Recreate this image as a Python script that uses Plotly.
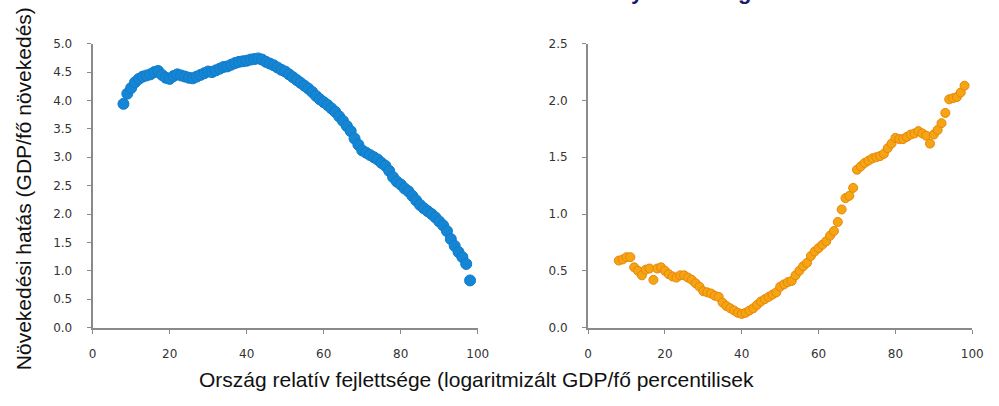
import plotly.graph_objects as go

# Data
x_left = list(range(8, 99))
y_left = [3.94, 4.12, 4.22, 4.32, 4.38, 4.42, 4.44, 4.46, 4.50, 4.52,
          4.45, 4.40, 4.38, 4.43, 4.46, 4.44, 4.42, 4.40, 4.39, 4.42,
          4.45, 4.48, 4.51, 4.50, 4.53, 4.56, 4.59, 4.60, 4.63, 4.66,
          4.68, 4.69, 4.70, 4.72, 4.73, 4.74, 4.72, 4.68, 4.65, 4.62,
          4.58, 4.54, 4.51, 4.46, 4.41, 4.36, 4.31, 4.26, 4.21, 4.15,
          4.08, 4.02, 3.97, 3.92, 3.86, 3.80, 3.72, 3.64, 3.55, 3.46,
          3.33, 3.22, 3.12, 3.08, 3.04, 3.00, 2.96, 2.90, 2.85, 2.76,
          2.65, 2.57, 2.52, 2.45, 2.40, 2.32, 2.24, 2.16, 2.10, 2.05,
          2.00, 1.94, 1.87, 1.80, 1.70, 1.56, 1.44, 1.33, 1.24, 1.12, 0.83]

x_right = list(range(8, 99))
y_right = [0.59, 0.60, 0.62, 0.62, 0.53, 0.50, 0.46, 0.51, 0.52, 0.42,
           0.52, 0.53, 0.50, 0.47, 0.45, 0.44, 0.46, 0.46, 0.44, 0.42,
           0.39, 0.36, 0.32, 0.31, 0.30, 0.28, 0.27, 0.22, 0.19, 0.17,
           0.15, 0.13, 0.12, 0.13, 0.15, 0.17, 0.20, 0.23, 0.25, 0.27,
           0.29, 0.31, 0.36, 0.38, 0.40, 0.41, 0.46, 0.50, 0.54, 0.57,
           0.63, 0.67, 0.70, 0.73, 0.76, 0.81, 0.85, 0.93, 1.04, 1.14,
           1.16, 1.23, 1.39, 1.42, 1.45, 1.47, 1.49, 1.50, 1.51, 1.53,
           1.58, 1.62, 1.67, 1.66, 1.66, 1.68, 1.70, 1.71, 1.73, 1.71,
           1.69, 1.62, 1.70, 1.74, 1.80, 1.89, 2.01, 2.02, 2.03, 2.07, 2.13]

y_title = "Növekedési hatás (GDP/fő növekedés)"
x_title = "Ország relatív fejlettsége (logaritmizált GDP/fő percentilisek"

W, H = 999, 406

fig = go.Figure()
fig.add_trace(go.Scatter(
    x=x_left, y=y_left, mode="markers", xaxis="x", yaxis="y",
    marker=dict(size=11, color="#1586d4", line=dict(color="#0f7ccb", width=1)),
    showlegend=False, hoverinfo="skip"))
fig.add_trace(go.Scatter(
    x=x_right, y=y_right, mode="markers", xaxis="x2", yaxis="y2",
    marker=dict(size=9, color="#f5a412", line=dict(color="#e8860c", width=1)),
    showlegend=False, hoverinfo="skip"))

ybot = (H - 332) / H
ytop = (H - 38) / H
tickfont = dict(family="DejaVu Sans", size=12, color="#333333")
axcommon = dict(showline=True, linecolor="#8a8a8a", linewidth=2, ticks="outside",
                ticklen=4, tickcolor="#8a8a8a", tickwidth=1, showgrid=False,
                zeroline=False, tickfont=tickfont)

fig.update_layout(
    width=W, height=H, margin=dict(l=0, r=0, t=0, b=0),
    paper_bgcolor="white", plot_bgcolor="white",
    xaxis=dict(domain=[90 / W, 481 / W], range=[0, 100], dtick=20, anchor="y",
               ticklabelstandoff=10, **axcommon),
    yaxis=dict(domain=[ybot, ytop], range=[0, 5], dtick=0.5, tickformat=".1f",
               anchor="x", ticklabelstandoff=12, **axcommon),
    xaxis2=dict(domain=[593 / W, 983 / W], range=[0, 100], dtick=20, anchor="y2",
                ticklabelstandoff=10, **axcommon),
    yaxis2=dict(domain=[ybot, ytop], range=[0, 2.5], dtick=0.5, tickformat=".1f",
                anchor="x2", ticklabelstandoff=12, **axcommon),
)

fig.add_annotation(text=y_title, xref="paper", yref="paper",
                   x=20 / W, y=(H - 188) / H, textangle=-90, showarrow=False,
                   xanchor="center", yanchor="middle",
                   font=dict(family="Liberation Sans", size=21, color="#111111"))
fig.add_annotation(text=x_title, xref="paper", yref="paper",
                   x=480 / W, y=(H - 386) / H, showarrow=False,
                   xanchor="center", yanchor="middle",
                   font=dict(family="Liberation Sans", size=21, color="#111111"))

# partially visible title glyphs at the very top edge (title is cut off in the source)
for gx, g in [(643, "y"), (752, "g")]:
    fig.add_annotation(text="<b>%s</b>" % g, xref="paper", yref="paper",
                       x=gx / W, y=(H + 16) / H, showarrow=False,
                       xanchor="center", yanchor="middle",
                       font=dict(family="Liberation Sans", size=22, color="#1c1c6b"))

fig.write_html("out.html")
